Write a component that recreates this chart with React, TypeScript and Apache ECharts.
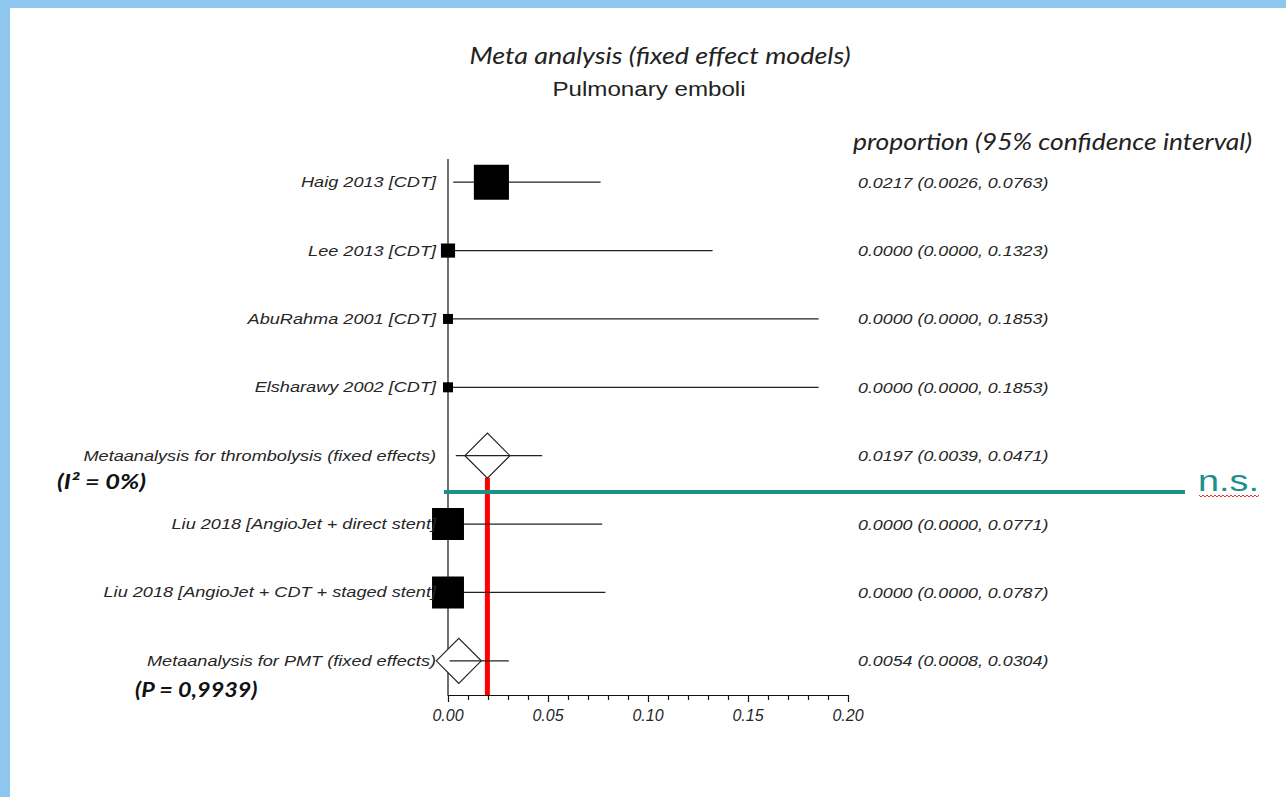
import React, { useEffect, useRef } from "react";
import * as echarts from "echarts";

// ---- data ----
const studies = [
  "Haig 2013 [CDT]",
  "Lee 2013 [CDT]",
  "AbuRahma 2001 [CDT]",
  "Elsharawy 2002 [CDT]",
  "Metaanalysis for thrombolysis (fixed effects)",
  "Liu 2018 [AngioJet + direct stent]",
  "Liu 2018 [AngioJet + CDT + staged stent]",
  "Metaanalysis for PMT (fixed effects)",
];
const proportion = [0.0217, 0.0, 0.0, 0.0, 0.0197, 0.0, 0.0, 0.0054];
const ciLow = [0.0026, 0.0, 0.0, 0.0, 0.0039, 0.0, 0.0, 0.0008];
const ciHigh = [0.0763, 0.1323, 0.1853, 0.1853, 0.0471, 0.0771, 0.0787, 0.0304];
const isPooled = [0, 0, 0, 0, 1, 0, 0, 1];
const studyWeight = [12.3, 2.0, 1.0, 1.0, 0, 10.2, 10.2, 0]; // relative box area
const thrombolysisPooled = 0.0197;
const separatorRow = 4.5;

const titleText = "Meta analysis (fixed effect models)";
const subtitleText = "Pulmonary emboli";
const headerText = "proportion (95% confidence interval)";
const heterogeneityText = "(I² = 0%)";
const pValueText = "(P = 0,9939)";
const nsText = "n.s.";

const ciLabels = proportion.map(
  (p, i) => `${p.toFixed(4)} (${ciLow[i].toFixed(4)}, ${ciHigh[i].toFixed(4)})`
);

const rowsData = studies.map((_, i) => [
  i,
  proportion[i],
  ciLow[i],
  ciHigh[i],
  studyWeight[i],
  isPooled[i],
]);

const TEXT = "#262626";
const TEAL = "#1a9189";
const BLUE = "#8ec6ee";

export default function App() {
  const ref = useRef<HTMLDivElement>(null);

  useEffect(() => {
    if (!ref.current) return;
    const chart = echarts.init(ref.current, null, { renderer: "svg" });

    const wave: number[][] = [];
    for (let k = 0; k <= 30; k++) {
      wave.push([1199 + k * 2, 496 + (k % 2 === 0 ? -1 : 1)]);
    }

    const option: any = {
      animation: false,
      backgroundColor: "#ffffff",
      grid: { left: 448, right: 438, top: 148, bottom: 102, containLabel: false },
      xAxis: {
        type: "value",
        position: "bottom",
        min: 0,
        max: 0.2,
        interval: 0.05,
        axisLine: { show: true, onZero: false, lineStyle: { color: "#111", width: 1.2 } },
        axisTick: { show: true, length: 7, lineStyle: { color: "#111", width: 1.2 } },
        minorTick: { show: true, splitNumber: 5, length: 5, lineStyle: { color: "#111", width: 1.2 } },
        splitLine: { show: false },
        axisLabel: {
          fontFamily: "Liberation Sans, Arial, sans-serif",
          fontStyle: "italic",
          fontSize: 16,
          color: TEXT,
          margin: 12,
          formatter: (v: number) => v.toFixed(2),
        },
      },
      yAxis: {
        type: "value",
        min: -0.5,
        max: 7.5,
        inverse: true,
        show: false,
      },
      graphic: [
        { type: "rect", left: 0, top: 0, shape: { width: 1286, height: 8 }, style: { fill: BLUE } },
        { type: "rect", left: 0, top: 0, shape: { width: 10, height: 797 }, style: { fill: BLUE } },
        {
          type: "text",
          x: 660,
          y: 55,
          scaleX: 1.17,
          style: {
            text: titleText,
            x: 0,
            y: 0,
            align: "center",
            verticalAlign: "middle",
            fontFamily: "Lato",
            fontStyle: "italic",
            fontSize: 23,
            fill: "#222",
          },
        },
        {
          type: "text",
          x: 649,
          y: 89,
          scaleX: 1.15,
          style: {
            text: subtitleText,
            x: 0,
            y: 0,
            align: "center",
            verticalAlign: "middle",
            fontFamily: "Liberation Sans",
            fontSize: 21,
            fill: "#222",
          },
        },
        {
          type: "text",
          x: 853,
          y: 141,
          scaleX: 1.15,
          style: {
            text: headerText,
            x: 0,
            y: 0,
            align: "left",
            verticalAlign: "middle",
            fontFamily: "Lato",
            fontStyle: "italic",
            fontSize: 23,
            fill: "#222",
          },
        },
        {
          type: "text",
          x: 57,
          y: 481,
          scaleX: 1.27,
          style: {
            text: heterogeneityText,
            x: 0,
            y: 0,
            align: "left",
            verticalAlign: "middle",
            fontFamily: "Lato",
            fontStyle: "italic",
            fontWeight: "bold",
            fontSize: 20,
            fill: "#111",
          },
        },
        {
          type: "text",
          x: 135,
          y: 690,
          scaleX: 1.17,
          style: {
            text: pValueText,
            x: 0,
            y: 0,
            align: "left",
            verticalAlign: "middle",
            fontFamily: "Lato",
            fontStyle: "italic",
            fontWeight: "bold",
            fontSize: 20,
            fill: "#111",
          },
        },
        {
          type: "text",
          x: 1198,
          y: 480,
          scaleX: 1.26,
          style: {
            text: nsText,
            x: 0,
            y: 0,
            align: "left",
            verticalAlign: "middle",
            fontFamily: "Liberation Sans",
            fontSize: 30,
            fill: TEAL,
          },
        },
        {
          type: "polyline",
          shape: { points: wave },
          style: { stroke: "#e03030", lineWidth: 1, fill: "none" },
        },
      ],
      series: [
        {
          // vertical zero line, separator, red reference line
          type: "custom",
          name: "guides",
          clip: false,
          data: [[thrombolysisPooled, separatorRow]],
          encode: { x: 0, y: 1 },
          renderItem: (params: any, api: any) => {
            const [x0, yTop] = api.coord([0, -0.5]);
            const [, yBottom] = api.coord([0, 7.5]);
            const [xr, ySep] = api.coord([api.value(0), api.value(1)]);
            const [, yPooled] = api.coord([api.value(0), 4]);
            return {
              type: "group",
              children: [
                {
                  type: "line",
                  shape: { x1: x0, y1: yTop + 11, x2: x0, y2: yBottom },
                  style: { stroke: "#111", lineWidth: 1.2 },
                },
                {
                  type: "rect",
                  shape: { x: xr - 2.5, y: yPooled + 22, width: 5, height: yBottom - yPooled - 22 },
                  style: { fill: "#ff0000" },
                },
                {
                  type: "line",
                  shape: { x1: x0 - 4, y1: ySep + 2, x2: x0 + 737, y2: ySep + 2 },
                  style: { stroke: TEAL, lineWidth: 4 },
                },
              ],
            };
          },
          z: 1,
        },
        {
          type: "custom",
          name: "forest",
          clip: false,
          data: rowsData,
          encode: { x: [1, 2, 3], y: 0 },
          renderItem: (params: any, api: any) => {
            const row = api.value(0);
            const est = api.value(1);
            const lo = api.value(2);
            const hi = api.value(3);
            const w = api.value(4);
            const pooled = api.value(5);
            const [xe, y] = api.coord([est, row]);
            const [xl] = api.coord([lo, row]);
            const [xh] = api.coord([hi, row]);
            const [x0] = api.coord([0, row]);
            const [xMax] = api.coord([0.2, row]);
            const idx = params.dataIndex;
            const children: any[] = [];
            const ciLine = {
              type: "line",
              shape: { x1: xl, y1: y, x2: xh, y2: y },
              style: { stroke: "#222", lineWidth: 1.3 },
            };
            if (pooled) {
              const h = 22.5;
              children.push({
                type: "polygon",
                shape: { points: [[xe - h, y], [xe, y - h], [xe + h, y], [xe, y + h]] },
                style: { fill: "#fff", stroke: "#222", lineWidth: 1.2 },
              });
              children.push(ciLine);
            } else {
              children.push(ciLine);
              const s = Math.sqrt(w) * 10;
              children.push({
                type: "rect",
                shape: { x: xe - s / 2, y: y - s / 2, width: s, height: s },
                style: { fill: "#000" },
              });
            }
            children.push({
              type: "text",
              x: x0 - 12,
              y: y,
              scaleX: 1.21,
              style: {
                text: studies[idx],
                x: 0,
                y: 0,
                align: "right",
                verticalAlign: "middle",
                fontFamily: "Liberation Sans",
                fontStyle: "italic",
                fontSize: 15,
                fill: TEXT,
              },
              z2: 5,
            });
            children.push({
              type: "text",
              x: xMax + 10,
              y: y,
              scaleX: 1.19,
              style: {
                text: ciLabels[idx],
                x: 0,
                y: 0,
                align: "left",
                verticalAlign: "middle",
                fontFamily: "Liberation Sans",
                fontStyle: "italic",
                fontSize: 15,
                fill: TEXT,
              },
            });
            return { type: "group", children };
          },
          z: 3,
        },
      ],
    };

    chart.setOption(option);
    return () => chart.dispose();
  }, []);

  return (
    <div
      ref={ref}
      style={{ position: "fixed", left: 0, top: 0, width: 1286, height: 797, background: "#fff" }}
    />
  );
}
